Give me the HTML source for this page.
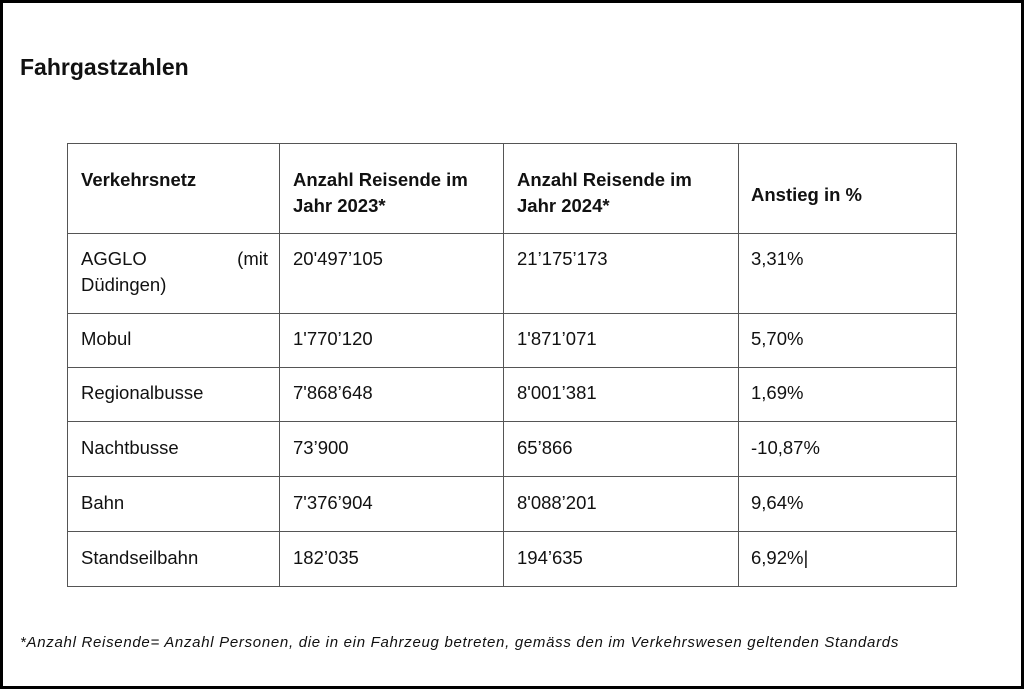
<!DOCTYPE html>
<html><head><meta charset="utf-8"><style>
body{margin:0;background:#fff}
#page{position:relative;width:1018px;height:683px;border:3px solid #000;overflow:hidden;font-family:"Liberation Sans",sans-serif;color:#111}
.t{position:absolute;font-size:18.5px;line-height:26px;white-space:nowrap}
.b{font-weight:bold}
.h{position:absolute;height:1px;background:#555}
.v{position:absolute;width:1px;background:#555}
</style></head><body>
<div id="page">
<div class="t b" style="left:17px;top:51px;font-size:23px">Fahrgastzahlen</div>
<div>
<div class="h" style="left:64px;top:140px;width:890px"></div>
<div class="h" style="left:64px;top:230px;width:890px"></div>
<div class="h" style="left:64px;top:310px;width:890px"></div>
<div class="h" style="left:64px;top:364px;width:890px"></div>
<div class="h" style="left:64px;top:418px;width:890px"></div>
<div class="h" style="left:64px;top:473px;width:890px"></div>
<div class="h" style="left:64px;top:528px;width:890px"></div>
<div class="h" style="left:64px;top:583px;width:890px"></div>
<div class="v" style="left:64px;top:140px;height:444px"></div>
<div class="v" style="left:276px;top:140px;height:444px"></div>
<div class="v" style="left:500px;top:140px;height:444px"></div>
<div class="v" style="left:735px;top:140px;height:444px"></div>
<div class="v" style="left:953px;top:140px;height:444px"></div>

<div class="t b" style="left:78px;top:164px">Verkehrsnetz</div>
<div class="t b" style="left:290px;top:164px">Anzahl Reisende im<br>Jahr 2023*</div>
<div class="t b" style="left:514px;top:164px">Anzahl Reisende im<br>Jahr 2024*</div>
<div class="t b" style="left:748px;top:179px">Anstieg in %</div>

<div class="t" style="left:78px;top:243px;width:187px"><span style="float:left">AGGLO</span><span style="float:right">(mit</span><br>Düdingen)</div>
<div class="t" style="left:290px;top:243px">20'497’105</div>
<div class="t" style="left:514px;top:243px">21’175’173</div>
<div class="t" style="left:748px;top:243px">3,31%</div>

<div class="t" style="left:78px;top:323px">Mobul</div>
<div class="t" style="left:290px;top:323px">1'770’120</div>
<div class="t" style="left:514px;top:323px">1'871’071</div>
<div class="t" style="left:748px;top:323px">5,70%</div>

<div class="t" style="left:78px;top:377px">Regionalbusse</div>
<div class="t" style="left:290px;top:377px">7'868’648</div>
<div class="t" style="left:514px;top:377px">8'001’381</div>
<div class="t" style="left:748px;top:377px">1,69%</div>

<div class="t" style="left:78px;top:432px">Nachtbusse</div>
<div class="t" style="left:290px;top:432px">73’900</div>
<div class="t" style="left:514px;top:432px">65’866</div>
<div class="t" style="left:748px;top:432px">-10,87%</div>

<div class="t" style="left:78px;top:487px">Bahn</div>
<div class="t" style="left:290px;top:487px">7'376’904</div>
<div class="t" style="left:514px;top:487px">8'088’201</div>
<div class="t" style="left:748px;top:487px">9,64%</div>

<div class="t" style="left:78px;top:542px">Standseilbahn</div>
<div class="t" style="left:290px;top:542px">182’035</div>
<div class="t" style="left:514px;top:542px">194’635</div>
<div class="t" style="left:748px;top:542px">6,92%|</div>
</div>
<div class="t" style="left:17px;top:627px;font-size:15px;letter-spacing:0.7px;font-style:italic">*Anzahl Reisende= Anzahl Personen, die in ein Fahrzeug betreten, gemäss den im Verkehrswesen geltenden Standards</div>
</div>
</body></html>
